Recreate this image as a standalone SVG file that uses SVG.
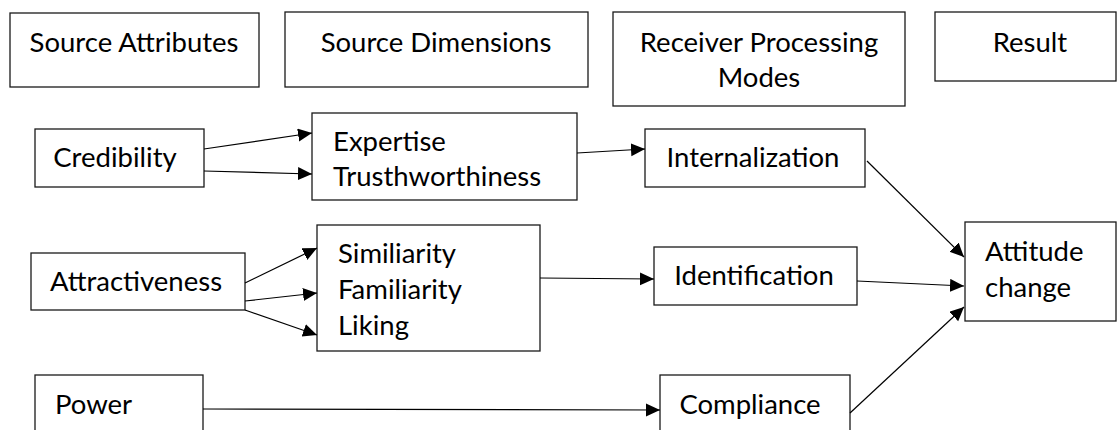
<svg xmlns="http://www.w3.org/2000/svg" width="1118" height="430" viewBox="0 0 1118 430">
<style>
.box{fill:#fff;stroke:#1a1a1a;stroke-width:1.3}
.t{font-family:Lato,"Open Sans","Liberation Sans",sans-serif;font-size:27.5px;fill:#000}
.c{text-anchor:middle}
.ln{stroke:#000;stroke-width:1.2;fill:none}
.ar{marker-end:url(#ah)}
</style>
<defs>
<marker id="ah" markerUnits="userSpaceOnUse" markerWidth="15" markerHeight="14" refX="14" refY="6.5" orient="auto">
<path d="M0,0 L14,6.5 L0,13 z" fill="#000"/>
</marker>
</defs>
<rect width="1118" height="430" fill="#fff"/>
<g id="n-source-attributes"><rect class="box" x="10" y="13" width="249" height="74"/><text class="t c" x="134" y="52">Source Attributes</text></g>
<g id="n-source-dimensions"><rect class="box" x="285" y="12" width="303" height="75"/><text class="t c" x="436" y="52">Source Dimensions</text></g>
<g id="n-receiver"><rect class="box" x="613" y="12" width="292" height="94"/><text class="t c" x="759" y="52">Receiver Processing</text><text class="t c" x="759" y="87">Modes</text></g>
<g id="n-result"><rect class="box" x="935" y="12" width="181" height="69"/><text class="t c" x="1030" y="52">Result</text></g>
<g id="n-credibility"><rect class="box" x="35" y="129" width="169" height="58"/><text class="t c" x="115" y="167">Credibility</text></g>
<g id="n-expertise"><rect class="box" x="312" y="113" width="265" height="87"/><text class="t" x="333" y="151">Expertise</text><text class="t" x="333" y="186">Trusthworthiness</text></g>
<g id="n-internalization"><rect class="box" x="645" y="129" width="220" height="58"/><text class="t c" x="753" y="167">Internalization</text></g>
<g id="n-attractiveness"><rect class="box" x="31" y="253" width="214" height="57"/><text class="t c" x="136" y="291">Attractiveness</text></g>
<g id="n-similiarity"><rect class="box" x="317" y="225" width="223" height="126"/><text class="t" x="338" y="263">Similiarity</text><text class="t" x="338" y="299">Familiarity</text><text class="t" x="338" y="335">Liking</text></g>
<g id="n-identification"><rect class="box" x="654" y="247" width="203" height="58"/><text class="t c" x="754" y="285">Identification</text></g>
<g id="n-attitude"><rect class="box" x="965" y="222" width="151" height="99"/><text class="t" x="985" y="261">Attitude</text><text class="t" x="985" y="297">change</text></g>
<g id="n-power"><rect class="box" x="35" y="375" width="168" height="70"/><text class="t" x="55" y="414">Power</text></g>
<g id="n-compliance"><rect class="box" x="660" y="375" width="190" height="70"/><text class="t c" x="750" y="414">Compliance</text></g>
<g id="connectors">
<line class="ln ar" x1="204" y1="149" x2="312" y2="133"/>
<line class="ln ar" x1="204" y1="171" x2="312" y2="174"/>
<line class="ln ar" x1="577" y1="153" x2="645" y2="149"/>
<line class="ln ar" x1="245" y1="283" x2="317" y2="248"/>
<line class="ln ar" x1="245" y1="301" x2="317" y2="293"/>
<line class="ln ar" x1="245" y1="310" x2="317" y2="335"/>
<line class="ln ar" x1="540" y1="278" x2="654" y2="279"/>
<line class="ln ar" x1="203" y1="409" x2="660" y2="410"/>
<line class="ln ar" x1="867" y1="161" x2="964" y2="257"/>
<line class="ln ar" x1="857" y1="281" x2="964" y2="286"/>
<line class="ln ar" x1="850" y1="413" x2="964" y2="307"/>
</g>
</svg>
